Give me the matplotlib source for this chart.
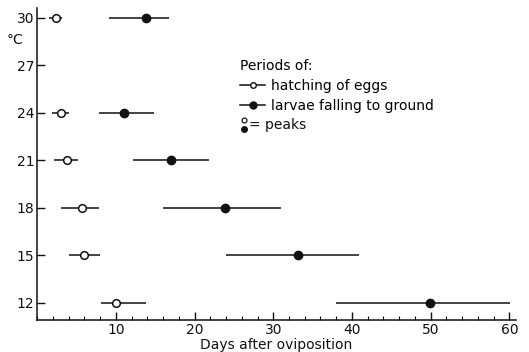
import matplotlib
matplotlib.use("Agg")
import matplotlib.pyplot as plt
from matplotlib.lines import Line2D
from matplotlib.ticker import MultipleLocator

# temperature (°C) and days after oviposition
temps = [30, 24, 21, 18, 15, 12]
hatch_start = [1.5, 1.9, 2.1, 3.0, 4.1, 8.1]
hatch_peak = [2.4, 3.0, 3.8, 5.7, 6.0, 10.0]
hatch_end = [3.2, 4.1, 5.2, 7.9, 8.0, 13.8]
larvae_start = [9.2, 7.9, 12.2, 16.0, 24.0, 38.0]
larvae_peak = [13.8, 11.0, 17.0, 23.9, 33.2, 49.9]
larvae_end = [16.8, 14.8, 21.9, 31.0, 40.9, 60.1]

yticks = [12, 15, 18, 21, 24, 27, 30]
xticks = [10, 20, 30, 40, 50, 60]

plt.rcParams["font.family"] = ["DejaVu Sans"]
fig = plt.figure(figsize=(5.29, 3.52), dpi=100)
ax = fig.add_axes([0.070, 0.091, 0.905, 0.886])

ink = "#111111"
for t, a, p, b in zip(temps, hatch_start, hatch_peak, hatch_end):
    ax.hlines(t, a, b, color=ink, lw=1.1)
    ax.plot(p, t, "o", ms=5.5, mfc="white", mec=ink, mew=1.1, zorder=3)
for t, a, p, b in zip(temps, larvae_start, larvae_peak, larvae_end):
    ax.hlines(t, a, b, color=ink, lw=1.1)
    ax.plot(p, t, "o", ms=6, mfc=ink, mec=ink, zorder=3)

ax.set_xlim(0, 60.8)
ax.set_ylim(10.9, 30.6)
ax.set_yticks(yticks)
ax.set_xticks(xticks)
ax.xaxis.set_minor_locator(MultipleLocator(2))
ax.tick_params(axis="both", which="major", direction="in", length=6, width=1,
               labelsize=10, colors=ink, pad=2)
ax.tick_params(axis="x", which="minor", direction="in", length=3, width=0.8)
for side in ("top", "right"):
    ax.spines[side].set_visible(False)
for side in ("left", "bottom"):
    ax.spines[side].set_linewidth(1.1)
    ax.spines[side].set_color(ink)

ax.set_xlabel("Days after oviposition", fontsize=10, color=ink, labelpad=1)
fig.text(0.012, 0.875, "°C", fontsize=10, color=ink)

handles = [
    Line2D([], [], color=ink, lw=1.1, marker="o", ms=4, mfc="white", mec=ink),
    Line2D([], [], color=ink, lw=1.1, marker="o", ms=5, mfc=ink, mec=ink),
]
leg = ax.legend(handles, ["hatching of eggs", "larvae falling to ground"],
                title="Periods of:", loc="upper left", bbox_to_anchor=(0.41, 0.86),
                frameon=False, fontsize=10, title_fontsize=10, handlelength=1.8,
                handletextpad=0.4, labelspacing=0.45, borderpad=0)
leg._legend_box.align = "left"

# peak key: open over filled circle
ax.plot([0.432], [0.640], "o", ms=3.5, mfc="white", mec=ink, mew=0.9, transform=ax.transAxes)
ax.plot([0.432], [0.613], "o", ms=4, mfc=ink, mec=ink, transform=ax.transAxes)
ax.text(0.443, 0.626, "= peaks", transform=ax.transAxes, fontsize=10,
        color=ink, va="center")

fig.savefig("out.png", dpi=100)
